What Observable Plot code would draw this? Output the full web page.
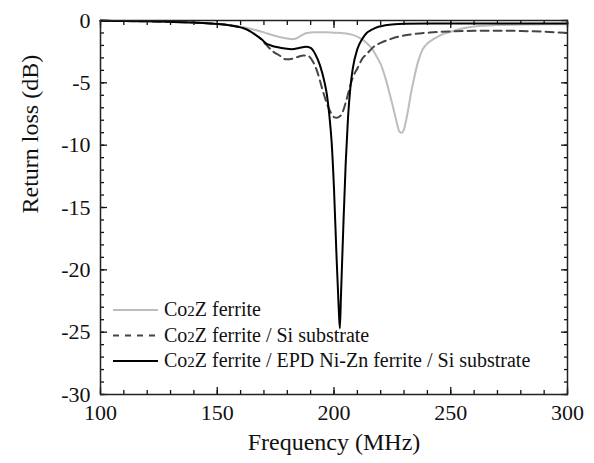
<!DOCTYPE html>
<html><head><meta charset="utf-8">
<script src="https://cdn.jsdelivr.net/npm/d3@7"></script>
<script src="https://cdn.jsdelivr.net/npm/@observablehq/plot@0.6"></script>
<style>
body{margin:0;background:#fff} svg{display:block}
#chart svg, #chart svg text { font-family: "Liberation Serif", "Times New Roman", Tinos, serif !important; }
</style>
</head><body><div id="chart"></div>
<script>
// ---- data ----
const xTicksMajor = [100, 150, 200, 250, 300];
const yTicksMajor = [0, -5, -10, -15, -20, -25, -30];
const xTitle = "Frequency (MHz)";
const yTitle = "Return loss (dB)";

const ferriteFreq = [100,110,120,130,140,150,155,160,165,170,175,180,182,184,186,188,192,196,200,204,208,211,214,216,218,220,222,224,226,227,228,229,230,231,232,233,234,236,238,240,243,246,250,255,262,270,280,290,300];
const ferriteDb   = [-0.02,-0.04,-0.07,-0.11,-0.17,-0.27,-0.36,-0.5,-0.7,-0.95,-1.25,-1.45,-1.5,-1.42,-1.2,-1.02,-0.95,-0.95,-0.98,-1.02,-1.15,-1.4,-1.8,-2.2,-2.8,-3.5,-4.6,-6.0,-7.5,-8.3,-8.9,-9.0,-8.7,-7.9,-6.9,-5.8,-4.9,-3.3,-2.3,-1.85,-1.45,-1.15,-0.9,-0.64,-0.45,-0.37,-0.33,-0.3,-0.3];

const siFreq = [100,110,120,130,140,150,155,160,163,166,169,171,174,177,179,181,184,187,189,191,193,195,197,199,200,201,202,203,204,205,206,207,208,210,212,214,217,220,224,228,235,241,250,260,270,280,290,300];
const siDb   = [-0.02,-0.04,-0.07,-0.11,-0.17,-0.28,-0.38,-0.55,-0.75,-1.1,-1.55,-1.95,-2.5,-2.85,-3.1,-3.1,-2.95,-2.8,-2.85,-3.3,-4.2,-5.5,-6.7,-7.5,-7.75,-7.8,-7.75,-7.6,-7.2,-6.6,-5.9,-5.2,-4.6,-3.85,-3.1,-2.7,-2.1,-1.8,-1.5,-1.28,-1.07,-0.97,-0.87,-0.83,-0.82,-0.84,-0.9,-1.0];

const epdFreq = [100,110,120,130,140,150,155,160,163,166,169,171,173,176,179,182,185,188,190,192,194,196,197,198,199,200,201,202,202.5,203,204,205,206,207,208,210,212,214,216,219,222,226,230,240,250,260,280,300];
const epdDb   = [-0.02,-0.04,-0.07,-0.11,-0.17,-0.28,-0.38,-0.55,-0.75,-1.1,-1.5,-1.85,-2.0,-2.15,-2.25,-2.3,-2.2,-2.1,-2.2,-2.7,-3.6,-5.0,-6.0,-7.6,-9.8,-13.5,-18.5,-23.0,-24.7,-22.0,-16.5,-11.5,-7.8,-5.4,-3.9,-2.3,-1.5,-1.0,-0.76,-0.5,-0.38,-0.3,-0.27,-0.25,-0.25,-0.25,-0.25,-0.25];

const seriesLabels = ["Co2Z ferrite", "Co2Z ferrite / Si substrate", "Co2Z ferrite / EPD Ni-Zn ferrite / Si substrate"];
const seriesColors = ["#bdbdbd", "#454545", "#000000"];
const seriesDashes = [null, "8,5", null];

const toRows = (fs, ds) => fs.map((f, i) => ({f, db: ds[i]}));
const series = [toRows(ferriteFreq, ferriteDb), toRows(siFreq, siDb), toRows(epdFreq, epdDb)];

const FONT = '"Liberation Serif", "Times New Roman", Tinos, serif';
const xMinor = d3.range(100, 301, 10);
const yMinor = d3.range(-30, 0.5, 1);
const noText = () => "";

const chart = Plot.plot({
  width: 594, height: 463,
  marginLeft: 100, marginRight: 27, marginTop: 20, marginBottom: 69,
  style: {background: "#fff", color: "#111"},
  x: {domain: [100, 300], label: null},
  y: {domain: [-30, 0], label: null},
  marks: [
    // tick labels
    Plot.axisX({ticks: xTicksMajor, tickSize: 0, tickPadding: 10, fontSize: 22, label: null, tickFormat: d => String(d)}),
    Plot.axisY({ticks: yTicksMajor, tickSize: 0, tickPadding: 10, fontSize: 22, label: null, tickFormat: d => String(d)}),
    // inward ticks, all four sides
    Plot.axisX({anchor: "bottom", ticks: xMinor, tickSize: -4, tickFormat: noText, label: null, strokeWidth: 1.3}),
    Plot.axisX({anchor: "bottom", ticks: xTicksMajor, tickSize: -7, tickFormat: noText, label: null, strokeWidth: 1.3}),
    Plot.axisX({anchor: "top", ticks: xMinor, tickSize: -4, tickFormat: noText, label: null, strokeWidth: 1.3}),
    Plot.axisX({anchor: "top", ticks: xTicksMajor, tickSize: -7, tickFormat: noText, label: null, strokeWidth: 1.3}),
    Plot.axisY({anchor: "left", ticks: yMinor, tickSize: -4, tickFormat: noText, label: null, strokeWidth: 1.3}),
    Plot.axisY({anchor: "left", ticks: yTicksMajor, tickSize: -7, tickFormat: noText, label: null, strokeWidth: 1.3}),
    Plot.axisY({anchor: "right", ticks: yMinor, tickSize: -4, tickFormat: noText, label: null, strokeWidth: 1.3}),
    Plot.axisY({anchor: "right", ticks: yTicksMajor, tickSize: -7, tickFormat: noText, label: null, strokeWidth: 1.3}),
    // curves
    ...series.map((rows, i) => Plot.line(rows, {
      x: "f", y: "db", curve: "monotone-x",
      stroke: seriesColors[i], strokeWidth: 2, strokeDasharray: seriesDashes[i]
    })),
    Plot.frame({stroke: "#222", strokeWidth: 1.5}),
    // axis titles
    Plot.text([xTitle], {frameAnchor: "bottom", dy: 55.5, fontSize: 24, fill: "#111"}),
    Plot.text([yTitle], {frameAnchor: "left", rotate: -90, dx: -70.5, dy: 6, fontSize: 24, fill: "#111"})
  ]
});

// legend (inside the frame, lower-left)
const svg = d3.select(chart);
const lg = svg.append("g").attr("font-family", FONT).attr("font-size", 20)
  .attr("fill", "#111").attr("text-anchor", "start");
const legendX0 = 113, legendX1 = 158, legendTextX = 164, legendY0 = 310, legendStep = 25.5;
seriesLabels.forEach((label, i) => {
  const y = legendY0 + i * legendStep;
  lg.append("line").attr("x1", legendX0).attr("x2", legendX1).attr("y1", y).attr("y2", y)
    .attr("stroke", seriesColors[i]).attr("stroke-width", 2)
    .attr("stroke-dasharray", i === 1 ? "6,6" : null);
  const t = lg.append("text").attr("x", legendTextX).attr("y", y).attr("dy", "0.32em")
    .attr("text-anchor", "start");
  const m = label.match(/^(Co)(2)(Z)(.*)$/);
  t.append("tspan").text(m[1]);
  t.append("tspan").attr("font-size", 15).text(m[2]);
  t.append("tspan").text(m[3] + m[4]);
});

document.getElementById("chart").appendChild(chart);
</script>
</body></html>
